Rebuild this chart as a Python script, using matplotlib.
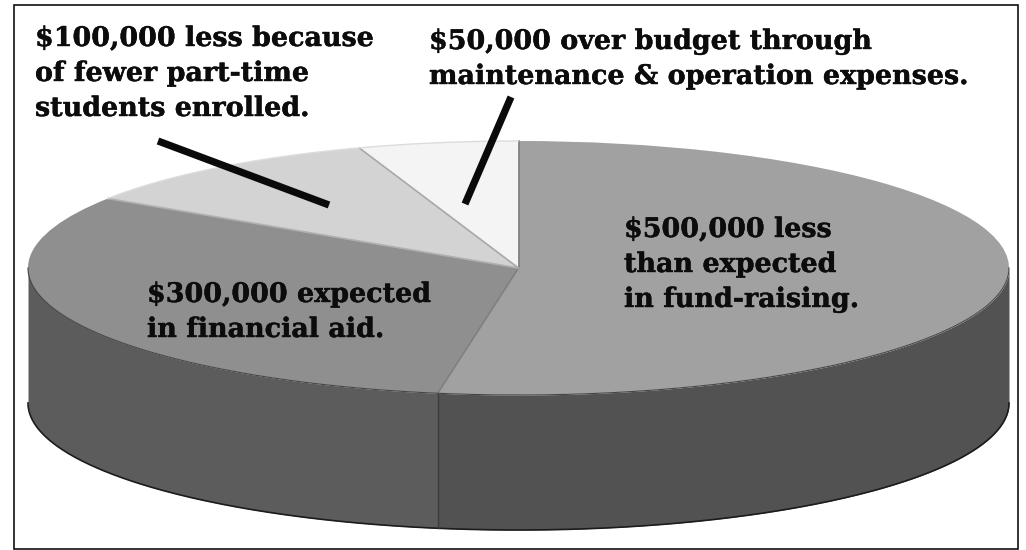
import numpy as np
import matplotlib
matplotlib.use("Agg")
import matplotlib.pyplot as plt
import matplotlib.patheffects as pe
from matplotlib.patches import Rectangle

# budget shortfalls, clockwise from twelve o'clock
amounts = [500000, 300000, 100000, 50000]
top_colors = ['#a1a1a1', '#8f8f8f', '#d3d3d3', '#f4f4f4']
side_colors = ['#525252', '#5c5c5c']
spoke_colors = ['#7d7d7d', '#808080', '#b0b0b0', '#a8a8a8']

label_lines = [
    ['$100,000 less because', 'of fewer part-time', 'students enrolled.'],
    ['$50,000 over budget through', 'maintenance & operation expenses.'],
    ['$500,000 less', 'than expected', 'in fund-raising.'],
    ['$300,000 expected', 'in financial aid.'],
]
label_x = [35, 429, 624, 147]
label_y = [[46, 81, 116], [49, 84], [237, 272, 307], [302, 337]]

W, H = 1026, 550
cx, cy = 518.5, 268
rx, ry = 490.5, 127
depth = 135

fig = plt.figure(figsize=(W/100, H/100), dpi=100, facecolor='white')
# pixel coordinates for the frame, the wall and the text
ax = fig.add_axes([0, 0, 1, 1])
ax.set_xlim(0, W)
ax.set_ylim(H, 0)
ax.axis('off')

ax.add_patch(Rectangle((14, 5), 1004, 544, fill=False, ec='#111111', lw=1.2, zorder=1))

frac = np.array(amounts) / sum(amounts)
edges = np.concatenate([[0], np.cumsum(frac)]) * 2*np.pi

def ex(t):
    return cx + rx*np.sin(t)

def ey(t):
    return cy - ry*np.cos(t)

# wall of the two front slices
for i in range(2):
    t0 = max(edges[i], np.pi/2)
    t1 = min(edges[i+1], 3*np.pi/2)
    t = np.linspace(t0, t1, 200)
    ax.fill_between(ex(t), ey(t), ey(t)+depth, color=side_colors[i], lw=0, zorder=2)

t = np.linspace(np.pi/2, 3*np.pi/2, 400)
ax.plot(ex(t), ey(t)+depth, color='#1c1c1c', lw=1.2, zorder=3)
ax.plot(ex(edges[1])*np.ones(2), [ey(edges[1]), ey(edges[1])+depth], color='#3c3c3c', lw=1, zorder=3)

# top face: a pie squeezed into the ellipse box
pie_ax = fig.add_axes([(cx-rx)/W, 1-(cy+ry)/H, 2*rx/W, 2*ry/H])
pie_ax.pie(amounts, colors=top_colors, startangle=90, counterclock=False, radius=1,
           wedgeprops={'linewidth': 0})
pie_ax.set_aspect('auto')
pie_ax.set_xlim(-1, 1)
pie_ax.set_ylim(-1, 1)
pie_ax.set_zorder(4)
pie_ax.patch.set_visible(False)
for e, c in zip(edges[:-1], spoke_colors):
    pie_ax.plot([0, np.sin(e)], [0, np.cos(e)], color=c, lw=1.2, clip_on=False)

# rim of the top face: dark along the front, faint along the pale back slices
t = np.linspace(np.pi/2, 3*np.pi/2, 400)
pie_ax.plot(np.sin(t), np.cos(t), color='#454545', lw=0.8, clip_on=False)
t = np.linspace(edges[2], edges[4], 100)
pie_ax.plot(np.sin(t), np.cos(t), color='#dcdcdc', lw=1, clip_on=False)

# text and leaders sit above the pie
over = fig.add_axes([0, 0, 1, 1], zorder=5)
over.set_xlim(0, W)
over.set_ylim(H, 0)
over.axis('off')
over.patch.set_visible(False)

for lines, x, ys in zip(label_lines, label_x, label_y):
    for s, y in zip(lines, ys):
        txt = over.text(x, y, s, family='DejaVu Serif', weight='bold', fontsize=19.4,
                        color='#0c0c0c', ha='left', va='baseline')
        txt.set_path_effects([pe.withStroke(linewidth=0.3, foreground='#0c0c0c')])

over.plot([158, 329], [141, 205], color='#0a0a0a', lw=5.2, solid_capstyle='butt')
over.plot([511, 465], [97, 204], color='#0a0a0a', lw=5.2, solid_capstyle='butt')

fig.savefig('out.png', dpi=100)
